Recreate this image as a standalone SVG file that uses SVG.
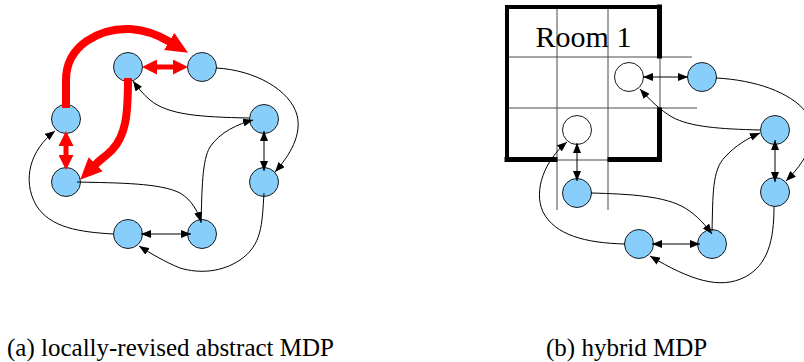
<svg xmlns="http://www.w3.org/2000/svg" width="804" height="362" viewBox="0 0 804 362">
  <style>
    .node { fill: #87cefa; stroke: #1a1a1a; stroke-width: 1; }
    .open { fill: #ffffff; stroke: #1a1a1a; stroke-width: 1; }
    .edge { fill: none; stroke: #000; stroke-width: 1; }
    .edge2 { fill: none; stroke: #000; stroke-width: 1; marker-start: url(#ah); marker-end: url(#ah); }
    .edge1 { marker-end: url(#ah); }
    .hot { fill: none; stroke: #ff0000; stroke-width: 8; marker-end: url(#rh); }
    .hot2 { fill: none; stroke: #ff0000; stroke-width: 5; marker-start: url(#rs); marker-end: url(#rs); }
    .grid { stroke: #4a4a4a; stroke-width: 1; fill: none; }
    .wall { stroke: #000; fill: none; stroke-linecap: square; }
    .label { font-family: "Liberation Serif", "Times New Roman", serif; fill: #000; }
  </style>
  <defs>
    <marker id="ah" markerUnits="userSpaceOnUse" viewBox="0 0 10 8" markerWidth="10" markerHeight="8" refX="10" refY="4" orient="auto-start-reverse">
      <path d="M0,0 L10,4 L0,8 z" fill="#000"/>
    </marker>
    <marker id="rh" markerUnits="userSpaceOnUse" viewBox="0 0 22 20" markerWidth="22" markerHeight="20" refX="1" refY="10" orient="auto">
      <path d="M0,0 L22,10 L0,20 z" fill="#ff0000"/>
    </marker>
    <marker id="rs" markerUnits="userSpaceOnUse" viewBox="0 0 15 15" markerWidth="15" markerHeight="15" refX="1" refY="7.5" orient="auto-start-reverse">
      <path d="M0,0 L15,7.5 L0,15 z" fill="#ff0000"/>
    </marker>
  </defs>

  <!-- Room 1 grid and walls -->
  <g id="room1">
    <line class="grid" x1="505" y1="57" x2="692" y2="57"/>
    <line class="grid" x1="505" y1="108" x2="697" y2="108"/>
    <line class="grid" x1="557" y1="7" x2="557" y2="210"/>
    <line class="grid" x1="608" y1="7" x2="608" y2="210"/>
    <line class="grid" x1="660" y1="57" x2="660" y2="108"/>
    <line class="grid" x1="557" y1="160" x2="608" y2="160"/>
    <line class="wall" stroke-width="4" x1="507" y1="7" x2="659" y2="7"/>
    <line class="wall" stroke-width="4" x1="507" y1="7" x2="507" y2="159"/>
    <line class="wall" stroke-width="5" x1="659.5" y1="7" x2="659.5" y2="56"/>
    <line class="wall" stroke-width="5" x1="659.5" y1="110" x2="659.5" y2="159.5"/>
    <line class="wall" stroke-width="5" x1="507" y1="159.5" x2="555" y2="159.5"/>
    <line class="wall" stroke-width="5" x1="610" y1="159.5" x2="659.5" y2="159.5"/>
    <text class="label" x="583.5" y="47" font-size="30" text-anchor="middle">Room 1</text>
  </g>

  <!-- left panel: abstract states -->
  <g id="a-n1"><circle class="node" cx="128" cy="67" r="14.5"/></g>
  <g id="a-n2"><circle class="node" cx="202" cy="67" r="14.5"/></g>
  <g id="a-n3"><circle class="node" cx="66" cy="119" r="14.5"/></g>
  <g id="a-n4"><circle class="node" cx="264" cy="119" r="14.5"/></g>
  <g id="a-n5"><circle class="node" cx="66" cy="182" r="14.5"/></g>
  <g id="a-n6"><circle class="node" cx="264" cy="182" r="14.5"/></g>
  <g id="a-n7"><circle class="node" cx="128" cy="234" r="14.5"/></g>
  <g id="a-n8"><circle class="node" cx="202" cy="234" r="14.5"/></g>

  <!-- right panel: hybrid states -->
  <g id="b-w1"><circle class="open" cx="629" cy="77" r="14.5"/></g>
  <g id="b-w2"><circle class="open" cx="577" cy="130" r="14.5"/></g>
  <g id="b-n1"><circle class="node" cx="702" cy="77" r="14.5"/></g>
  <g id="b-n2"><circle class="node" cx="775" cy="130" r="14.5"/></g>
  <g id="b-n3"><circle class="node" cx="577" cy="193" r="14.5"/></g>
  <g id="b-n4"><circle class="node" cx="775" cy="192" r="14.5"/></g>
  <g id="b-n5"><circle class="node" cx="639" cy="244" r="14.5"/></g>
  <g id="b-n6"><circle class="node" cx="712" cy="244" r="14.5"/></g>

  <g id="connectors">
    <!-- left panel, plain transitions -->
    <path class="edge edge1" d="M216,68 C255,70 290,90 297,115 C302,135 290,155 275,172"/>
    <path class="edge edge1" d="M249,118 C200,117 168,115 150,100 C143,94 138,88 133,81"/>
    <line class="edge2" x1="264" y1="131" x2="264" y2="171"/>
    <path class="edge edge1" d="M201,223 C202,190 202,160 210,147 C220,132 238,124 253,120"/>
    <path class="edge edge1" d="M77,182 C120,183 160,183 180,193 C192,200 198,212 201,222"/>
    <line class="edge2" x1="141" y1="234" x2="191" y2="234"/>
    <path class="edge edge1" d="M113,234 C80,232 50,228 36,205 C22,180 30,150 55,131"/>
    <path class="edge edge1" d="M264,193 C262,225 262,245 240,260 C222,272 200,274 180,268 C165,262 150,253 139,246"/>

    <!-- left panel, revised transitions -->
    <path class="hot" d="M66,108 L66,80 C66,45 100,28 130,29 C148,30 160,36 170,42"/>
    <path class="hot" d="M128,78 C128,115 126,135 112,150 C106,156 100,160 95,165"/>
    <line class="hot2" x1="156" y1="67" x2="174" y2="67"/>
    <line class="hot2" x1="66" y1="145" x2="66" y2="156"/>

    <!-- right panel -->
    <line class="edge2" x1="643" y1="77" x2="688" y2="77"/>
    <path class="edge edge1" d="M716,78 C755,80 790,92 806,112 C820,130 812,155 786,181"/>
    <path class="edge edge1" d="M760,130 C720,129 690,127 672,117 C660,110 650,100 640,89"/>
    <line class="edge2" x1="775" y1="140" x2="775" y2="182"/>
    <path class="edge edge1" d="M712,231 C713,195 712,170 725,157 C735,146 748,138 760,133"/>
    <path class="edge edge1" d="M591,193 C630,194 665,196 685,208 C698,216 706,226 712,234"/>
    <line class="edge2" x1="652" y1="244" x2="700" y2="244"/>
    <path class="edge edge1" d="M625,244 C585,243 555,235 543,212 C533,190 545,160 567,142"/>
    <line class="edge2" x1="577" y1="143" x2="577" y2="181"/>
    <path class="edge edge1" d="M774,207 C774,240 768,265 745,277 C720,290 690,280 650,256"/>
  </g>

  <text class="label" x="7" y="356" font-size="25">(a) locally-revised abstract MDP</text>
  <text class="label" x="546" y="356" font-size="25">(b) hybrid MDP</text>
</svg>
